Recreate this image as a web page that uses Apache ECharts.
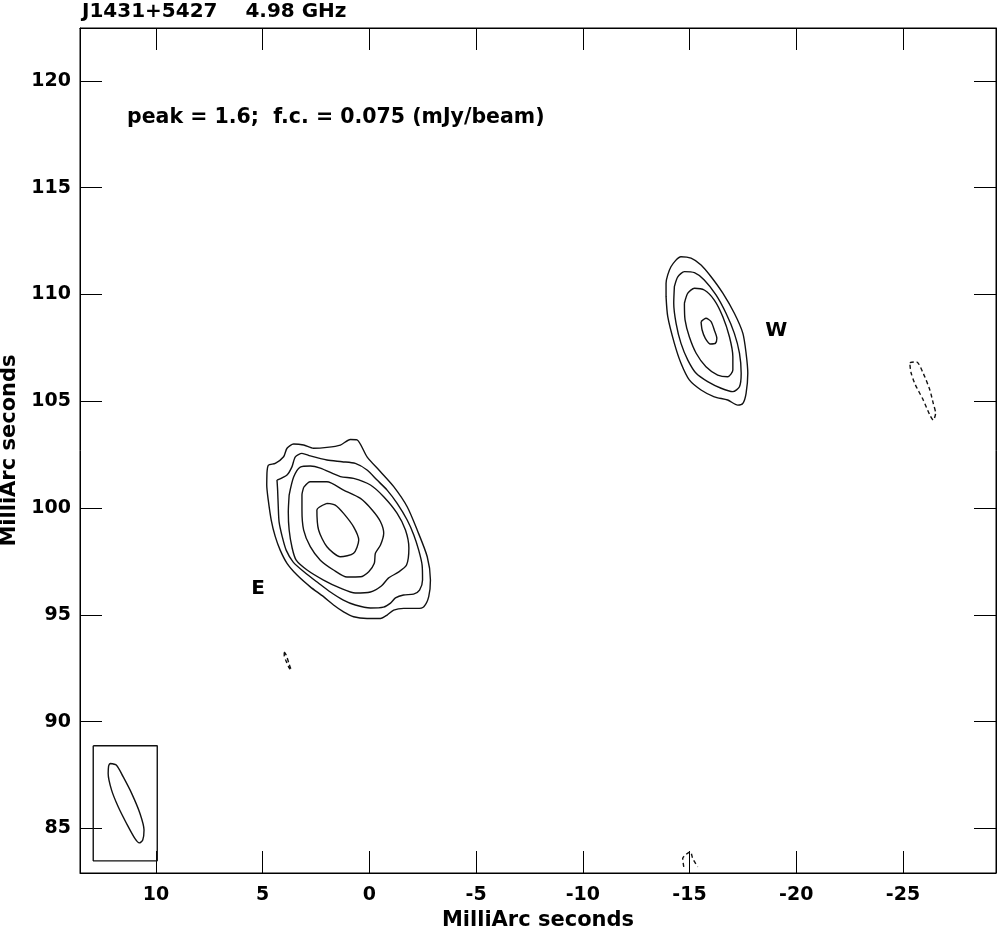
<!DOCTYPE html>
<html>
<head>
<meta charset="utf-8">
<title>J1431+5427 4.98 GHz</title>
<script src="https://cdn.jsdelivr.net/npm/echarts@6/dist/echarts.min.js"></script>
<style>
  html, body { margin: 0; padding: 0; background: #fff; }
  #chart { width: 997px; height: 927px; }
</style>
</head>
<body>
<div id="chart"></div>
<script>
// tick labels (milliarcseconds)
const xTicks = [10, 5, 0, -5, -10, -15, -20, -25];
const yTicks = [85, 90, 95, 100, 105, 110, 115, 120];

// E component, contours from outermost to innermost: [x, y] in mas
const eastC1 = [
  [4.80, 101.64], [4.73, 102.01], [4.41, 102.09], [4.02, 102.40], [3.86, 102.80],
  [3.55, 103.00], [3.08, 102.95], [2.62, 102.80], [1.99, 102.84], [1.36, 102.95],
  [0.89, 103.21], [0.58, 103.19], [0.11, 102.40], [-0.52, 101.70], [-1.14, 101.00],
  [-1.77, 100.06], [-2.24, 98.97], [-2.71, 97.72], [-2.86, 96.63], [-2.78, 95.85],
  [-2.55, 95.38], [-2.24, 95.30], [-1.61, 95.30], [-1.14, 95.22], [-0.83, 94.99],
  [-0.52, 94.83], [0.11, 94.83], [0.74, 94.91], [1.21, 95.14], [1.68, 95.46],
  [2.15, 95.85], [2.77, 96.31], [3.39, 96.86], [3.86, 97.41], [4.18, 98.03],
  [4.41, 98.66], [4.60, 99.44], [4.74, 100.38], [4.81, 101.08]
];
const eastC2 = [
  [4.33, 101.31], [3.86, 101.55], [3.63, 101.93], [3.47, 102.40], [3.16, 102.56],
  [2.77, 102.44], [1.99, 102.25], [1.28, 102.17], [0.66, 102.09], [0.11, 101.78],
  [-0.36, 101.31], [-0.83, 100.84], [-1.30, 100.22], [-1.77, 99.44], [-2.08, 98.74],
  [-2.31, 98.03], [-2.47, 97.33], [-2.49, 96.63], [-2.35, 96.16], [-2.07, 95.97],
  [-1.60, 95.93], [-1.22, 95.79], [-0.99, 95.55], [-0.66, 95.36], [-0.05, 95.32],
  [0.66, 95.46], [1.22, 95.69], [1.83, 96.07], [2.39, 96.49], [3.00, 96.96],
  [3.57, 97.47], [3.90, 98.03], [4.08, 98.64], [4.23, 99.34], [4.27, 100.06],
  [4.30, 100.84]
];
const eastC3 = [
  [3.76, 100.61], [3.55, 101.45], [3.24, 101.92], [2.77, 101.97], [2.30, 101.87],
  [1.36, 101.47], [0.74, 101.39], [-0.05, 101.08], [-0.67, 100.53], [-1.30, 99.75],
  [-1.69, 98.97], [-1.85, 98.13], [-1.74, 97.33], [-1.36, 97.00], [-0.89, 96.72],
  [-0.56, 96.35], [-0.05, 96.07], [0.66, 96.02], [1.36, 96.25], [2.15, 96.63],
  [2.92, 97.10], [3.43, 97.56], [3.62, 98.13], [3.76, 98.97], [3.80, 99.81]
];
const eastC4 = [
  [3.08, 100.97], [2.77, 101.23], [1.99, 101.23], [1.21, 100.84], [0.42, 100.45],
  [-0.13, 99.91], [-0.52, 99.36], [-0.67, 98.82], [-0.52, 98.27], [-0.28, 97.88],
  [-0.23, 97.41], [0.03, 97.02], [0.42, 96.78], [1.05, 96.77], [1.68, 97.10],
  [2.30, 97.56], [2.77, 98.19], [3.08, 98.97], [3.16, 99.91], [3.16, 100.61]
];
const eastC5 = [
  [1.99, 100.22], [1.60, 100.14], [1.21, 99.75], [0.74, 99.12], [0.50, 98.50],
  [0.74, 97.88], [1.36, 97.72], [1.99, 98.19], [2.38, 98.97], [2.46, 99.91]
];

// W component
const westC1 = [
  [-13.90, 109.90], [-13.90, 110.52], [-14.13, 111.30], [-14.60, 111.77], [-15.07, 111.70],
  [-15.54, 111.38], [-16.01, 110.83], [-16.56, 110.06], [-17.10, 109.12], [-17.50, 108.18],
  [-17.65, 107.25], [-17.73, 106.31], [-17.65, 105.37], [-17.50, 104.90], [-17.26, 104.82],
  [-16.79, 105.06], [-16.16, 105.21], [-15.54, 105.53], [-14.99, 106.00], [-14.60, 106.78],
  [-14.29, 107.71], [-13.98, 108.96]
];
const westC2 = [
  [-14.29, 110.37], [-14.45, 110.83], [-14.76, 111.07], [-15.23, 111.02], [-15.69, 110.68],
  [-16.24, 109.98], [-16.71, 109.12], [-17.10, 108.18], [-17.34, 107.25], [-17.42, 106.31],
  [-17.34, 105.68], [-17.03, 105.45], [-16.48, 105.61], [-15.85, 105.92], [-15.31, 106.31],
  [-14.92, 106.93], [-14.60, 107.71], [-14.37, 108.65], [-14.26, 109.59]
];
const westC3 = [
  [-14.76, 109.59], [-14.92, 110.06], [-15.23, 110.29], [-15.69, 110.21], [-16.16, 109.74],
  [-16.56, 108.96], [-16.87, 108.02], [-17.03, 107.09], [-17.03, 106.46], [-16.79, 106.15],
  [-16.32, 106.23], [-15.77, 106.62], [-15.31, 107.25], [-14.99, 108.02], [-14.79, 108.81]
];
const westC4 = [
  [-15.54, 108.73], [-15.77, 108.89], [-16.01, 108.73], [-16.16, 108.34], [-16.28, 107.95],
  [-16.21, 107.71], [-15.98, 107.68], [-15.74, 107.95], [-15.59, 108.34]
];

// negative (dashed) contours
const negFarWest = [
  [-25.32, 106.81], [-25.63, 106.85], [-25.95, 106.31], [-26.26, 105.53], [-26.42, 104.90],
  [-26.53, 104.44], [-26.42, 104.12], [-26.26, 104.36], [-25.95, 105.06], [-25.55, 105.84],
  [-25.37, 106.38]
];
const negSouthE = [
  [3.99, 93.26], [3.90, 93.12], [3.76, 92.69], [3.66, 92.41], [3.76, 92.51],
  [3.90, 92.83], [3.99, 93.07]
];
const negBottom = [
  [-14.73, 83.20], [-14.68, 83.59], [-14.84, 83.78], [-15.04, 83.90], [-15.15, 83.59],
  [-15.38, 83.20]
];

// restoring beam and its box
const beam = [
  [12.16, 88.04], [11.85, 87.96], [11.54, 87.42], [11.14, 86.64], [10.75, 85.70],
  [10.56, 84.92], [10.62, 84.45], [10.78, 84.32], [10.99, 84.53], [11.38, 85.23],
  [11.77, 86.01], [12.08, 86.79], [12.24, 87.57], [12.22, 87.92]
];
const beamBox = [[12.94, 88.87], [9.94, 88.87], [9.94, 83.48], [12.94, 83.48]];

const componentLabels = [
  { name: 'E', value: [5.21, 96.21] },
  { name: 'W', value: [-19.06, 108.29] }
];

const FONT = 'DejaVu Sans';

function contour(pts, opts) {
  opts = opts || {};
  return {
    type: 'line',
    data: opts.open ? pts : pts.concat([pts[0]]),
    showSymbol: false,
    smooth: opts.smooth === undefined ? 0.25 : opts.smooth,
    silent: true,
    lineStyle: {
      color: '#111',
      width: 1.4,
      type: opts.dashed ? [4, 3] : 'solid'
    }
  };
}

const xRange = { min: -29.36, max: 13.56 };
const yRange = { min: 82.91, max: 122.48 };

const tickStyle = { lineStyle: { color: '#000', width: 1 } };
const boldText = { fontFamily: FONT, fontWeight: 'bold', color: '#000' };

const option = {
  animation: false,
  backgroundColor: '#fff',
  textStyle: { fontFamily: FONT },
  title: [
    {
      text: 'J1431+5427    4.98 GHz',
      left: 77,
      top: -3,
      textStyle: Object.assign({ fontSize: 20 }, boldText)
    },
    {
      text: 'peak = 1.6;  f.c. = 0.075 (mJy/beam)',
      left: 122,
      top: 102,
      textStyle: Object.assign({ fontSize: 20.5 }, boldText)
    }
  ],
  grid: {
    left: 80,
    right: 1,
    top: 28,
    bottom: 54,
    outerBoundsMode: 'none',
    containLabel: false,
    show: true,
    borderColor: '#000',
    borderWidth: 1
  },
  xAxis: [
    {
      type: 'value',
      inverse: true,
      min: xRange.min,
      max: xRange.max,
      position: 'bottom',
      name: 'MilliArc seconds',
      nameLocation: 'middle',
      nameGap: 34,
      nameTextStyle: Object.assign({ fontSize: 21 }, boldText),
      axisLine: { onZero: false, lineStyle: { color: '#000' } },
      axisTick: Object.assign({ inside: true, length: 22, customValues: xTicks }, tickStyle),
      axisLabel: Object.assign({ customValues: xTicks, margin: 13, fontSize: 19 }, boldText),
      splitLine: { show: false }
    },
    {
      type: 'value',
      inverse: true,
      min: xRange.min,
      max: xRange.max,
      position: 'top',
      axisLine: { onZero: false, lineStyle: { color: '#000' } },
      axisTick: Object.assign({ inside: true, length: 22, customValues: xTicks }, tickStyle),
      axisLabel: { show: false },
      splitLine: { show: false }
    }
  ],
  yAxis: [
    {
      type: 'value',
      min: yRange.min,
      max: yRange.max,
      position: 'left',
      name: 'MilliArc seconds',
      nameLocation: 'middle',
      nameGap: 50,
      nameTextStyle: Object.assign({ fontSize: 21 }, boldText),
      axisLine: { onZero: false, lineStyle: { color: '#000' } },
      axisTick: Object.assign({ inside: true, length: 22, customValues: yTicks }, tickStyle),
      axisLabel: Object.assign({ customValues: yTicks, margin: 9, fontSize: 19 }, boldText),
      splitLine: { show: false }
    },
    {
      type: 'value',
      min: yRange.min,
      max: yRange.max,
      position: 'right',
      axisLine: { onZero: false, lineStyle: { color: '#000' } },
      axisTick: Object.assign({ inside: true, length: 22, customValues: yTicks }, tickStyle),
      axisLabel: { show: false },
      splitLine: { show: false }
    }
  ],
  series: [
    contour(eastC1),
    contour(eastC2),
    contour(eastC3),
    contour(eastC4),
    contour(eastC5),
    contour(westC1),
    contour(westC2),
    contour(westC3),
    contour(westC4),
    contour(negFarWest, { dashed: true }),
    contour(negSouthE, { dashed: true }),
    contour(negBottom, { dashed: true, open: true }),
    contour(beam),
    contour(beamBox, { smooth: false }),
    {
      type: 'scatter',
      data: componentLabels,
      symbolSize: 0,
      silent: true,
      itemStyle: { opacity: 1 },
      label: Object.assign({
        show: true,
        position: [0, 0],
        align: 'center',
        verticalAlign: 'middle',
        formatter: '{b}',
        fontSize: 20
      }, boldText)
    }
  ]
};

const chart = echarts.init(document.getElementById('chart'), null, { renderer: 'canvas' });
chart.setOption(option);
</script>
</body>
</html>
